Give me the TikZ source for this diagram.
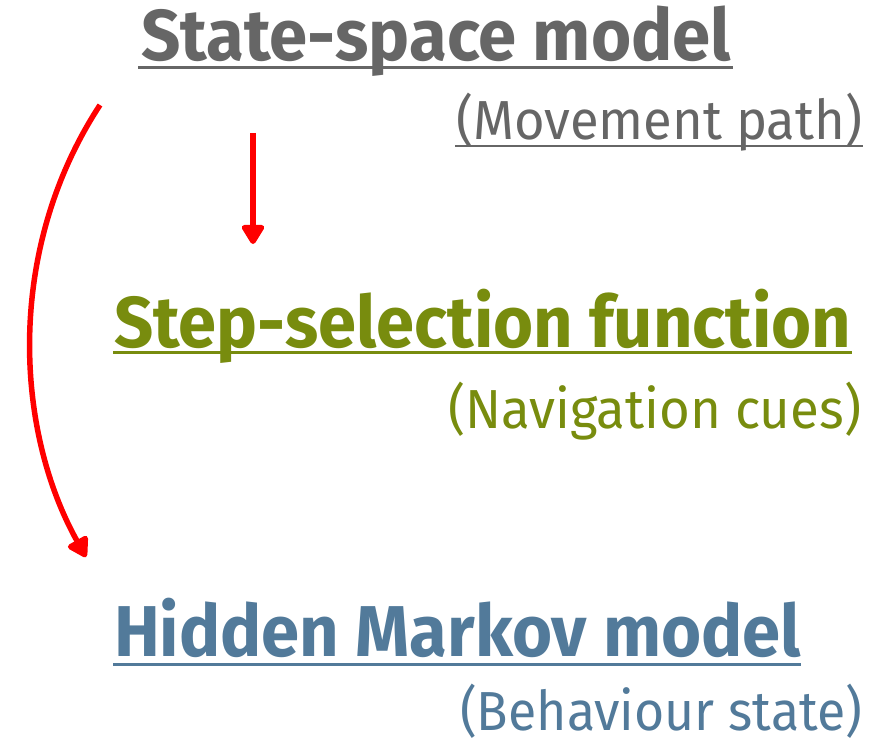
\documentclass[tikz,border=0pt]{standalone}
\usepackage{fontspec}
\setmainfont{Fira Sans}
\usepackage{graphicx}
\usetikzlibrary{arrows.meta}
\definecolor{tgray}{HTML}{666666}
\definecolor{tolive}{HTML}{788C0E}
\definecolor{tblue}{HTML}{527A9A}
\definecolor{ared}{HTML}{FF0000}
\newcommand{\fitw}[2]{\resizebox{#1}{\height}{#2}}
\tikzset{
  title/.style={anchor=base west, inner sep=0pt, font=\fontsize{72}{72}\selectfont\bfseries},
  subtitle/.style={anchor=base west, inner sep=0pt, font=\fontsize{55}{55}\selectfont},
  ulthick/.style={line width=3pt},
  ulthin/.style={line width=2pt},
  redarrow/.style={draw=ared, line width=5.5pt, -{Triangle[width=25pt,length=22pt,round]}}
}
\begin{document}
\begin{tikzpicture}[x=1pt,y=-1pt]
\useasboundingbox (0,0) rectangle (879,741);
% titles
\node[title, text=tgray] (t1) at (141,61) {\fitw{590pt}{State-space model}};
\node[subtitle, text=tgray] (s1) at (456,140) {\fitw{406pt}{(Movement path)}};
\node[title, text=tolive] (t2) at (114,347) {\fitw{737pt}{Step-selection function}};
\node[subtitle, text=tolive] (s2) at (448,428) {\fitw{413pt}{(Navigation cues)}};
\node[title, text=tblue] (t3) at (114,656) {\fitw{687pt}{Hidden Markov model}};
\node[subtitle, text=tblue] (s3) at (460,730) {\fitw{402pt}{(Behaviour state)}};
% underlines
\draw[ulthick, tgray] ([xshift=-3pt,yshift=-6.5pt]t1.base west) -- ([xshift=2pt,yshift=-6.5pt]t1.base east);
\draw[ulthin, tgray] ([xshift=-1pt,yshift=-6pt]s1.base west) -- ([xshift=1pt,yshift=-6pt]s1.base east);
\draw[ulthick, tolive] ([xshift=-1pt,yshift=-5.5pt]t2.base west) -- ([xshift=1pt,yshift=-5.5pt]t2.base east);
\draw[ulthick, tblue] ([xshift=-1pt,yshift=-8.5pt]t3.base west) -- ([xshift=0pt,yshift=-8.5pt]t3.base east);
% arrows
\coordinate (a1s) at (253,133);
\coordinate (a1e) at (253,244);
\coordinate (a2s) at (100,105);
\coordinate (a2e) at (86,557);
\draw[redarrow] (a1s) -- (a1e);
\draw[redarrow] (a2s) .. controls (5,250) and (15,430) .. (a2e);
\end{tikzpicture}
\end{document}
